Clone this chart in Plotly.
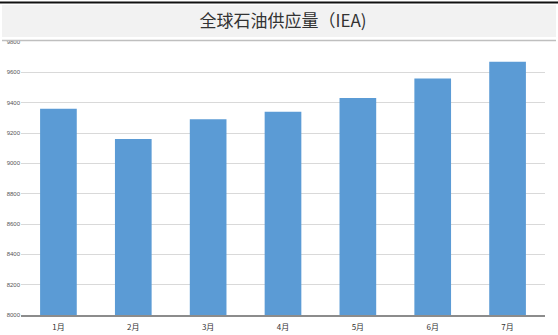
import plotly.graph_objects as go

months = ["1月", "2月", "3月", "4月", "5月", "6月", "7月"]
supply = [9360, 9160, 9290, 9340, 9430, 9560, 9670]
y_ticks = [8000, 8200, 8400, 8600, 8800, 9000, 9200, 9400, 9600, 9800]
y_tick_labels = [str(v) for v in y_ticks]
title_text = "全球石油供应量（IEA)"

W, H = 558, 335
L, R, T, B = 21, 13, 42, 20
pw, ph = W - L - R, H - T - B

def px(x):
    return (x - L) / pw

def py(y):
    return (H - B - y) / ph

fig = go.Figure()
fig.add_trace(go.Bar(
    x=months, y=supply,
    marker=dict(color="#5b9bd5", line=dict(width=0)),
    width=0.49,
))

shapes = [
    dict(type="rect", xref="paper", yref="paper", x0=px(2), x1=px(556), y0=py(37), y1=py(5),
         fillcolor="#f2f2f2", line=dict(width=0), layer="below"),
    dict(type="line", xref="paper", yref="paper", x0=px(0), x1=px(558), y0=py(2.5), y1=py(2.5),
         line=dict(color="#111111", width=2)),
    dict(type="line", xref="paper", yref="paper", x0=px(2), x1=px(556), y0=py(40.5), y1=py(40.5),
         line=dict(color="#bfbfbf", width=1.5)),
]

fig.update_layout(
    width=W, height=H,
    margin=dict(l=L, r=R, t=T, b=B, autoexpand=False),
    paper_bgcolor="white", plot_bgcolor="white",
    showlegend=False,
    bargap=0.51,
    shapes=shapes,
    title=dict(text=title_text, x=0.5, xref="paper", xanchor="center",
               y=1 - 21 / H, yanchor="middle",
               font=dict(family="Noto Sans CJK SC", size=17, color="#333333")),
    xaxis=dict(showgrid=False, showline=True, linecolor="#8c8c8c", linewidth=1.5,
               ticks="", automargin=False, ticklabelstandoff=4,
               tickfont=dict(family="Noto Sans CJK SC", size=8, color="#333333")),
    yaxis=dict(range=[8000, 9800], tickvals=y_ticks, ticktext=y_tick_labels,
               showgrid=True, gridcolor="#d9d9d9", automargin=False,
               gridwidth=1, zeroline=False, showline=False, ticks="",
               tickfont=dict(family="Liberation Sans", size=6, color="#555555")),
)

fig.write_html("out.html")
